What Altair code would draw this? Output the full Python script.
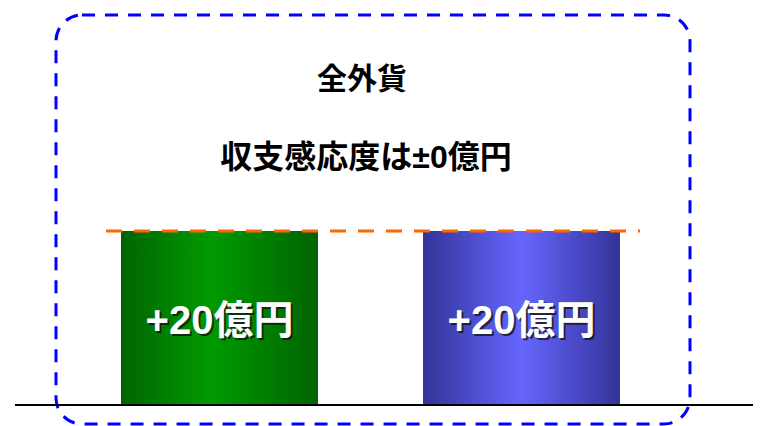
import altair as alt
import pandas as pd

# ---- data ----
categories = ["左", "右"]
values = [20, 20]
header_lines = ["全外貨", "収支感応度は±0億円"]

df = pd.DataFrame({"cat": categories, "value": values})

FONT = "'Liberation Sans', 'Noto Sans CJK JP', sans-serif"
y_scale = alt.Scale(domain=[0, 45.6])
x_scale = alt.Scale(domain=categories, range=[113, 612], paddingInner=0.3477, paddingOuter=0)

green_grad = alt.Gradient(
    gradient="linear", x1=0, x2=1, y1=0, y2=0,
    stops=[alt.GradientStop(color="#006400", offset=0),
           alt.GradientStop(color="#009A00", offset=0.45),
           alt.GradientStop(color="#006400", offset=1)])
blue_grad = alt.Gradient(
    gradient="linear", x1=0, x2=1, y1=0, y2=0,
    stops=[alt.GradientStop(color="#333399", offset=0),
           alt.GradientStop(color="#6666FF", offset=0.5),
           alt.GradientStop(color="#333399", offset=1)])

base = alt.Chart(df)

frame = alt.Chart(pd.DataFrame({"k": [0]})).mark_rect(
    cornerRadius=26, stroke="#0000FF", strokeWidth=3, strokeDash=[13, 10], fill="transparent"
).encode(x=alt.value(48), x2=alt.value(682), y=alt.value(7), y2=alt.value(416))

def bar_layer(cat, grad):
    return base.transform_filter(alt.datum.cat == cat).mark_bar(fill=grad).encode(
        x=alt.X("cat:N", scale=x_scale, axis=None),
        y=alt.Y("value:Q", scale=y_scale, axis=None),
    )

bars = bar_layer(categories[0], green_grad) + bar_layer(categories[1], blue_grad)

baseline = base.transform_aggregate(z="min(value)").transform_calculate(z0="0").mark_rule(
    color="black", strokeWidth=2
).encode(x=alt.value(7), x2=alt.value(745), y=alt.Y("z0:Q", scale=y_scale))

ref = base.transform_aggregate(m="max(value)").mark_rule(
    color="#FF6600", strokeWidth=3, strokeDash=[16, 12]
).encode(x=alt.value(98), x2=alt.value(632), y=alt.Y("m:Q", scale=y_scale))

lab = base.transform_calculate(
    mid="datum.value / 2", label='"+" + datum.value + "億円"'
)
label_shadow = lab.mark_text(
    font=FONT, fontWeight="bold", fontSize=40, color="#111111", opacity=0.75, dx=2, dy=6
).encode(x=alt.X("cat:N", scale=x_scale, axis=None), y=alt.Y("mid:Q", scale=y_scale), text="label:N")
label = lab.mark_text(
    font=FONT, fontWeight="bold", fontSize=40, color="white", dy=4
).encode(x=alt.X("cat:N", scale=x_scale, axis=None), y=alt.Y("mid:Q", scale=y_scale), text="label:N")

hdf = pd.DataFrame({"t": header_lines, "i": [0, 1]})
h1 = alt.Chart(hdf).transform_filter(alt.datum.i == 0).mark_text(
    font=FONT, fontWeight="bold", fontSize=30, color="black"
).encode(x=alt.value(354), y=alt.value(72), text="t:N")
h2 = alt.Chart(hdf).transform_filter(alt.datum.i == 1).mark_text(
    font=FONT, fontWeight="bold", fontSize=32, color="black"
).encode(x=alt.value(358), y=alt.value(150), text="t:N")

chart = alt.layer(frame, bars, baseline, ref, label_shadow, label, h1, h2).properties(
    width=745, height=397, autosize=alt.AutoSizeParams(type="none"),
    padding={"left": 0, "top": 0, "right": 0, "bottom": 21},
).configure_view(stroke=None)

chart.save("out.html", embed_options={"renderer": "svg", "actions": False})
